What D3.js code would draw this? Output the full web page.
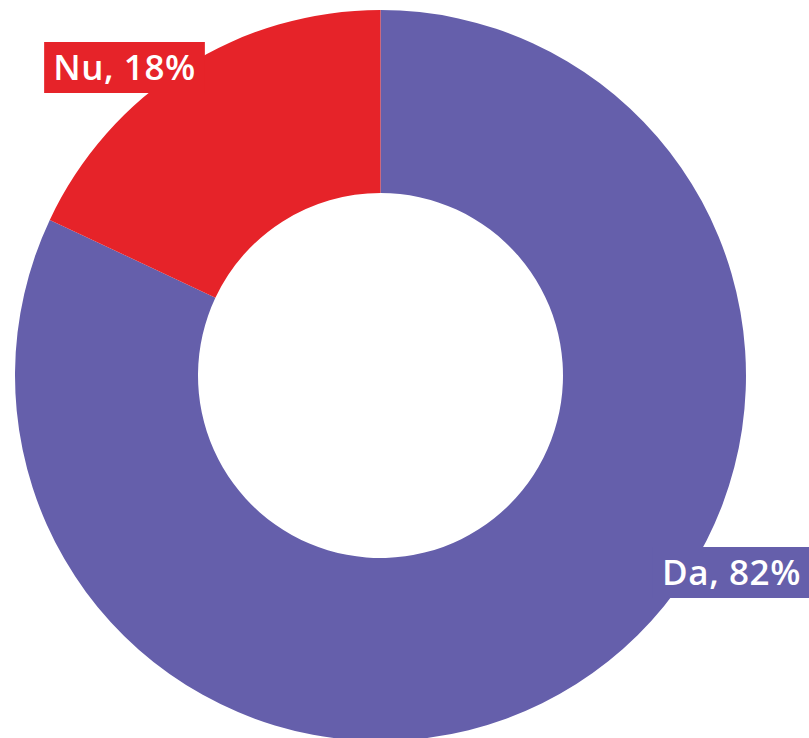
<!DOCTYPE html>
<html>
<head>
<meta charset="utf-8">
<script src="https://cdn.jsdelivr.net/npm/d3@7.9.0/dist/d3.min.js"></script>
<style>
  html, body { margin: 0; padding: 0; background: #fff; }
  svg { display: block; }
  .label text { font-family: "Open Sans", sans-serif; font-weight: 600; font-size: 35px; letter-spacing: 0.6px; fill: #fff; }
</style>
</head>
<body>
<svg width="809" height="738"></svg>
<script>
// data
const categories = ['Da', 'Nu'];
const values = [82, 18];
const sliceColors = ['#655fab', '#e62329'];

const width = 809, height = 738;
const cx = 380.5, cy = 375.5;
const outerR = 365.5, innerR = 182.5;

const svg = d3.select('svg');
const g = svg.append('g').attr('transform', `translate(${cx},${cy})`);

// pie in given order, clockwise from the top
const pie = d3.pie().sort(null).value((d) => d.value);
const arcData = pie(categories.map((c, i) => ({ label: c, value: values[i], color: sliceColors[i] })));

const arcGenerator = d3.arc().innerRadius(innerR).outerRadius(outerR);

g.selectAll('path')
  .data(arcData)
  .join('path')
  .attr('d', arcGenerator)
  .attr('fill', (d) => d.data.color);

// label boxes: anchor point (box centre) relative to chart centre
const labelPos = {
  Da: [351, 197],
  Nu: [-256, -308]
};

arcData.forEach((d) => {
  const [lx, ly] = labelPos[d.data.label];
  const lg = g.append('g').attr('class', 'label').attr('transform', `translate(${lx},${ly})`);
  const rect = lg.append('rect').attr('fill', d.data.color);
  const txt = lg.append('text')
    .attr('text-anchor', 'middle')
    .attr('dy', '0.36em')
    .text(`${d.data.label}, ${d3.format('d')(d.value)}%`);
  const bb = txt.node().getBBox();
  const padX = 9, h = 51;
  rect.attr('x', bb.x - padX).attr('y', -h / 2)
    .attr('width', bb.width + padX * 2).attr('height', h);
});
</script>
</body>
</html>
